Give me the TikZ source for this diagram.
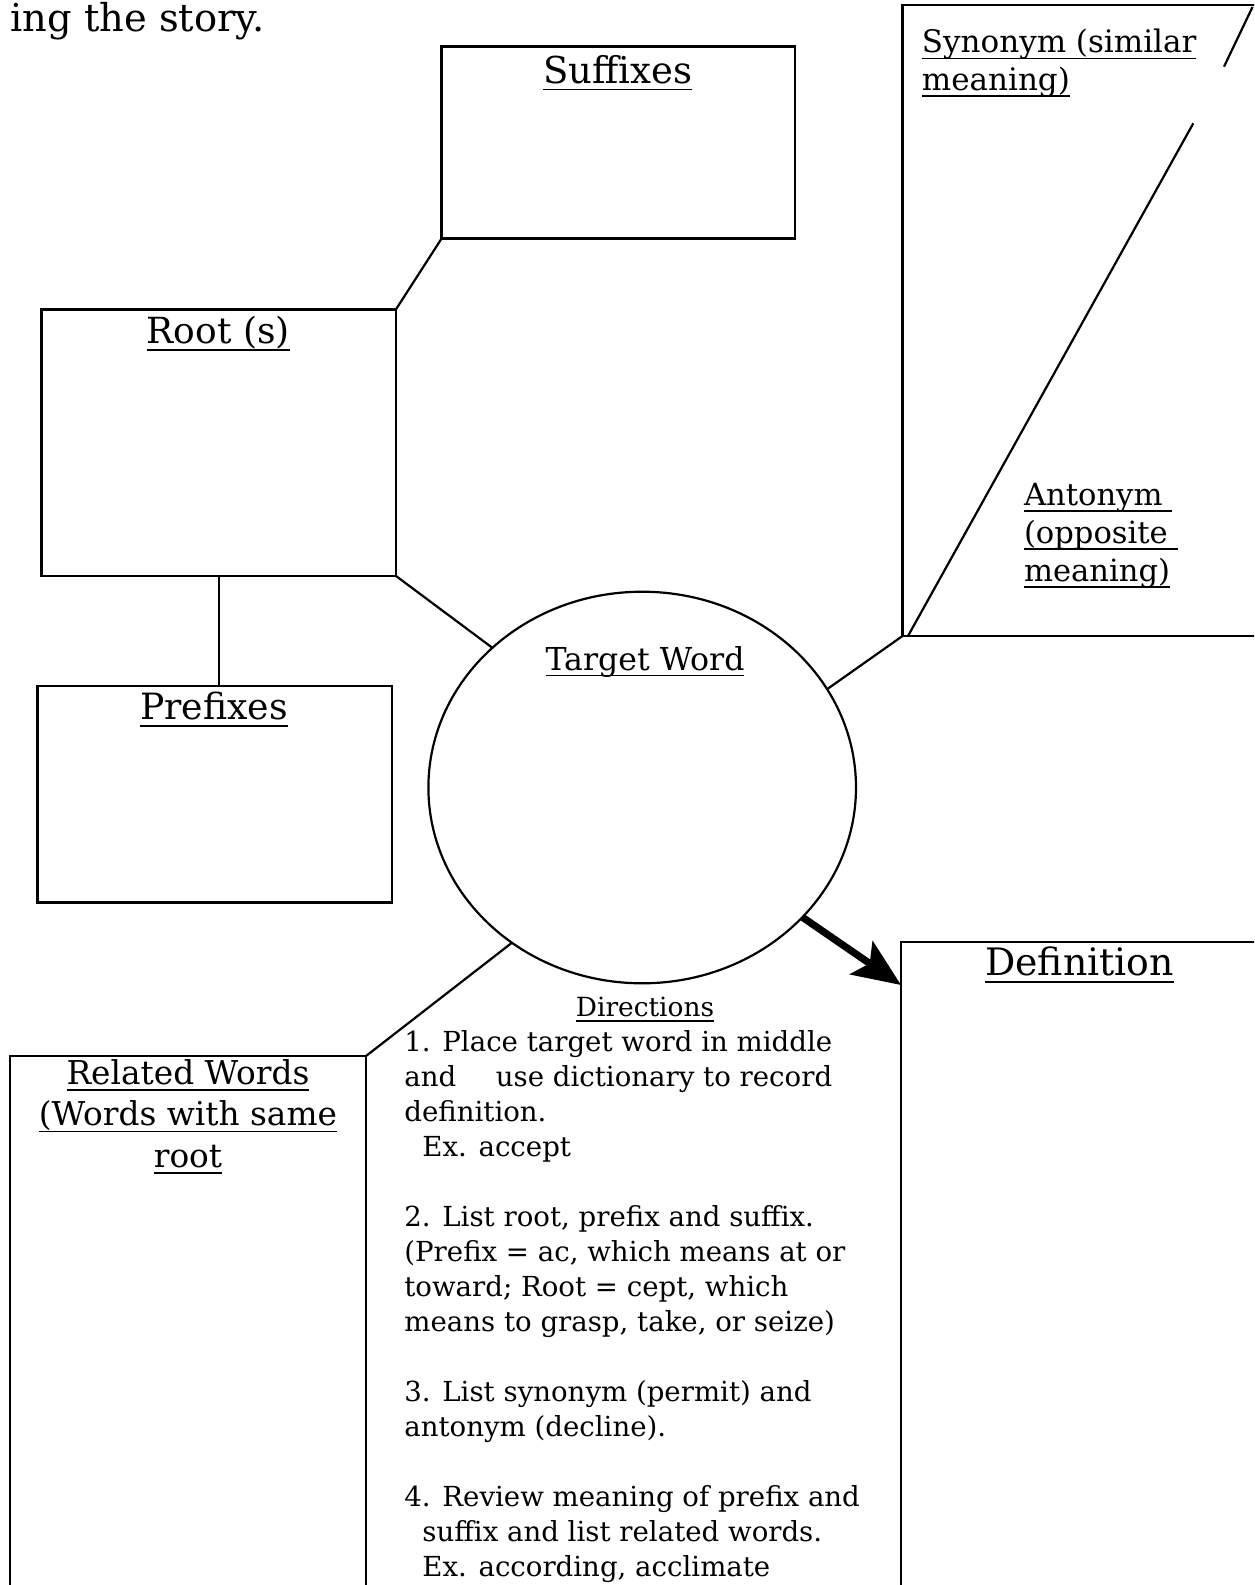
\documentclass[tikz,border=0pt]{standalone}
\usepackage{fontspec}
\setmainfont{DejaVu Serif}
\usetikzlibrary{shapes.geometric,arrows.meta}

\newsavebox{\undlbox}
\newcommand{\undl}[1]{\sbox{\undlbox}{#1}\rlap{\rule[-0.2em]{\wd\undlbox}{0.8pt}}\usebox{\undlbox}}

\tikzset{
    box/.style={draw, line width=1.2pt, inner sep=0pt, outer sep=0pt, anchor=north west},
    link/.style={line width=1.1pt},
    bigarrow/.style={line width=3.6pt, -{Stealth[length=24pt, width=20pt, inset=5pt]}},
    title/.style={inner sep=0pt, anchor=base, font=\fontsize{18.5}{22}\selectfont},
    note/.style={inner sep=0pt, align=left, anchor=north west},
}

\begin{document}
\begin{tikzpicture}[x=0.5pt, y=-0.5pt]
    \useasboundingbox (0,0) rectangle (1254,1585);
    \clip (0,0) rectangle (1254,1585);

    % leftover line from the page above
    \node [inner sep=0pt, anchor=base west, font=\fontsize{19.2}{22}\selectfont]
        (story) at (10,31) {ing the story.};

    % boxes
    \node [box, minimum width=176.75pt, minimum height=96pt] (suff) at (441.6,46.5) {};
    \node [box, minimum width=177.25pt, minimum height=133.35pt] (root) at (41.5,309.3) {};
    \node [box, minimum width=177.3pt, minimum height=108.2pt] (pref) at (37.4,686) {};
    \node [box, minimum width=178pt, minimum height=300pt] (rel) at (10,1056) {};
    \node [box, minimum width=180pt, minimum height=315.5pt] (syn) at (902.5,5) {};
    \node [box, minimum width=180pt, minimum height=350pt] (def) at (901,942) {};
    \node [draw, ellipse, line width=1.1pt, inner sep=0pt, outer sep=0pt,
        minimum width=213.8pt, minimum height=195.8pt] (target) at (642.2,787.5) {};

    % split of the synonym / antonym box
    \draw [link]
        (908,636) -- (1193.3,123.3)
        (1224,66.7) -- (1252.5,7)
        ;

    % headings
    \node [title] (sufftitle) at (617.9,83) {\undl{Suffixes}};
    \node [title, font=\fontsize{18}{22}\selectfont] (roottitle) at (218.3,343.3) {\undl{Root (s)}};
    \node [title, font=\fontsize{18.1}{22}\selectfont] (preftitle) at (214,719.5) {\undl{Prefixes}};
    \node [title, font=\fontsize{15.8}{20}\selectfont] (targettitle) at (645,670) {\undl{Target Word}};
    \node [title, font=\fontsize{18.9}{22}\selectfont] (deftitle) at (1079.5,975) {\undl{Definition}};
    \node [note, font=\fontsize{15.5}{18.7}\selectfont] (syntitle) at (921.5,29)
        {\undl{Synonym (similar}\\\undl{meaning)}};
    \node [note, font=\fontsize{15.3}{19}\selectfont] (anttitle) at (1023.6,482.7)
        {\undl{Antonym }\\\undl{(opposite }\\\undl{meaning)}};
    \node [note, align=center, anchor=north, font=\fontsize{16.4}{20.7}\selectfont] (reltitle) at (188,1059)
        {\undl{Related Words}\\\undl{(Words with same}\\\undl{root}};

    % directions
    \node [title, font=\fontsize{13.2}{17}\selectfont] (dirtitle) at (645,1016.6) {\undl{Directions}};
    \node [note, font=\fontsize{13.8}{17.5}\selectfont] (steps) at (404,1030)
        {1. Place target word in middle\\
         and \hspace{0.8em} use dictionary to record\\
         definition.\\
         \hspace*{9pt}Ex. accept\\[17.5pt]
         2. List root, prefix and suffix.\\
         (Prefix = ac, which means at or\\
         toward; Root = cept, which\\
         means to grasp, take, or seize)\\[17.5pt]
         3. List synonym (permit) and\\
         antonym (decline).\\[17.5pt]
         4. Review meaning of prefix and\\
         \hspace*{9pt}suffix and list related words.\\
         \hspace*{9pt}Ex. according, acclimate};

    % connectors
    \draw [link] (root.north east) -- (suff.south west);
    \draw [link] (root.south) -- (root.south |- pref.north);
    \draw [link] (root.south east) -- (target.137);
    \draw [link] (syn.south west) -- (target.28);
    \draw [link] (rel.north east) -- (target.230);
    \draw [bigarrow] (target.321) -- ([yshift=-21.5pt]def.north west);
\end{tikzpicture}
\end{document}
